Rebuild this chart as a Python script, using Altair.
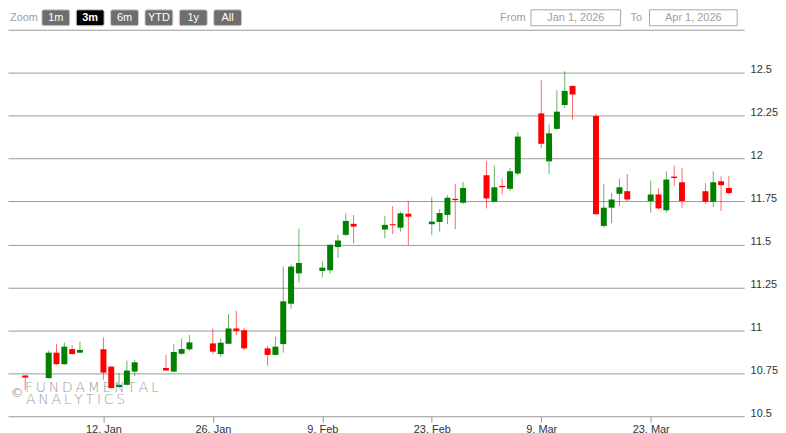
import altair as alt
import pandas as pd

# ---- data ----
DATES = [
    "2026-01-02", "2026-01-05", "2026-01-06", "2026-01-07", "2026-01-08", "2026-01-09",
    "2026-01-12", "2026-01-13", "2026-01-14", "2026-01-15", "2026-01-16",
    "2026-01-20", "2026-01-21", "2026-01-22", "2026-01-23",
    "2026-01-26", "2026-01-27", "2026-01-28", "2026-01-29", "2026-01-30",
    "2026-02-02", "2026-02-03", "2026-02-04", "2026-02-05", "2026-02-06",
    "2026-02-09", "2026-02-10", "2026-02-11", "2026-02-12", "2026-02-13",
    "2026-02-17", "2026-02-18", "2026-02-19", "2026-02-20",
    "2026-02-23", "2026-02-24", "2026-02-25", "2026-02-26", "2026-02-27",
    "2026-03-02", "2026-03-03", "2026-03-04", "2026-03-05", "2026-03-06",
    "2026-03-09", "2026-03-10", "2026-03-11", "2026-03-12", "2026-03-13",
    "2026-03-16", "2026-03-17", "2026-03-18", "2026-03-19", "2026-03-20",
    "2026-03-23", "2026-03-24", "2026-03-25", "2026-03-26", "2026-03-27",
    "2026-03-30", "2026-03-31", "2026-04-01", "2026-04-02",
]
OPEN = [
    10.737, 10.722, 10.870, 10.803, 10.891, 10.870,
    10.890, 10.789, 10.670, 10.683, 10.760,
    10.781, 10.760, 10.864, 10.890,
    10.924, 10.862, 10.922, 11.011, 11.001,
    10.895, 10.857, 10.920, 11.155, 11.332,
    11.346, 11.350, 11.485, 11.556, 11.620,
    11.587, 11.618, 11.598, 11.679,
    11.618, 11.631, 11.672, 11.766, 11.743,
    11.903, 11.749, 11.841, 11.824, 11.913,
    12.263, 11.984, 12.173, 12.312, 12.423,
    12.248, 11.608, 11.714, 11.795, 11.810,
    11.753, 11.791, 11.699, 11.895, 11.862,
    11.810, 11.749, 11.868, 11.829,
]
HIGH = [
    10.740, 10.882, 10.920, 10.930, 10.914, 10.934,
    10.959, 10.792, 10.751, 10.824, 10.828,
    10.857, 10.920, 10.953, 10.972,
    11.011, 10.953, 11.094, 11.113, 11.014,
    10.910, 10.962, 11.371, 11.383, 11.592,
    11.402, 11.502, 11.556, 11.681, 11.672,
    11.666, 11.724, 11.691, 11.753,
    11.777, 11.705, 11.787, 11.853, 11.864,
    11.984, 11.959, 11.884, 11.945, 12.153,
    12.456, 12.199, 12.398, 12.508, 12.425,
    12.260, 11.853, 11.801, 11.884, 11.910,
    11.872, 11.826, 11.926, 11.959, 11.945,
    11.857, 11.926, 11.897, 11.897,
]
LOW = [
    10.654, 10.720, 10.800, 10.800, 10.860, 10.868,
    10.712, 10.662, 10.668, 10.680, 10.735,
    10.765, 10.757, 10.858, 10.878,
    10.862, 10.847, 10.920, 10.972, 10.886,
    10.795, 10.855, 10.870, 11.127, 11.277,
    11.309, 11.329, 11.421, 11.550, 11.506,
    11.535, 11.560, 11.575, 11.497,
    11.554, 11.575, 11.618, 11.589, 11.734,
    11.710, 11.745, 11.791, 11.810, 11.903,
    12.061, 11.910, 12.167, 12.296, 12.228,
    11.675, 11.598, 11.624, 11.724, 11.753,
    11.685, 11.705, 11.685, 11.839, 11.714,
    11.737, 11.718, 11.695, 11.791,
]
CLOSE = [
    10.725, 10.870, 10.803, 10.905, 10.862, 10.886,
    10.754, 10.664, 10.683, 10.766, 10.814,
    10.766, 10.874, 10.891, 10.930,
    10.876, 10.928, 11.011, 10.997, 10.895,
    10.857, 10.905, 11.169, 11.371, 11.392,
    11.365, 11.498, 11.523, 11.637, 11.604,
    11.614, 11.612, 11.681, 11.662,
    11.633, 11.683, 11.772, 11.758, 11.829,
    11.768, 11.833, 11.833, 11.926, 12.128,
    12.086, 12.147, 12.273, 12.394, 12.373,
    11.676, 11.714, 11.762, 11.833, 11.762,
    11.791, 11.710, 11.878, 11.887, 11.753,
    11.749, 11.862, 11.845, 11.799,
]

Y_TICKS = [10.5, 10.75, 11.0, 11.25, 11.5, 11.75, 12.0, 12.25, 12.5, 12.75]
X_TICKS = [(1, 12), (1, 26), (2, 9), (2, 23), (3, 9), (3, 23)]
ZOOM_BUTTONS = ["1m", "3m", "6m", "YTD", "1y", "All"]
SELECTED = "3m"
FROM_TEXT = "Jan 1, 2026"
TO_TEXT = "Apr 1, 2026"

df = pd.DataFrame({"date": DATES, "open": OPEN, "high": HIGH, "low": LOW, "close": CLOSE})

UP = "#008000"
DOWN = "#ff0000"
GRID = "#9a9a9a"
FONT = "Liberation Sans"
W, H = 739, 388

color_cond = alt.condition("datum.close >= datum.open", alt.value(UP), alt.value(DOWN))

x_scale = alt.Scale(
    type="utc",
    domain=[
        alt.DateTime(year=2025, month=12, date=31, hours=10, minutes=22, utc=True),
        alt.DateTime(year=2026, month=4, date=3, hours=7, minutes=30, utc=True),
    ],
)
x_axis = alt.Axis(
    values=[alt.DateTime(year=2026, month=m, date=d, utc=True) for m, d in X_TICKS],
    labelExpr="utcFormat(datum.value, '%-d. %b')", grid=False, domain=False,
    ticks=True, tickSize=6, tickColor=GRID, tickWidth=1,
    labelFont=FONT, labelFontSize=11, labelColor="#333333", labelPadding=1,
    labelBaseline="top", title=None,
)
y_scale = alt.Scale(domain=[10.5, 12.75], nice=False, zero=False)
y_axis = alt.Axis(
    orient="right", values=Y_TICKS, grid=True, gridColor=GRID, gridWidth=1,
    domain=False, ticks=False, tickSize=0, labelPadding=6,
    labelExpr="datum.value > 12.6 ? '' : format(datum.value, '~g')",
    labelBaseline="alphabetic", labelFont=FONT, labelFontSize=11,
    labelColor="#333333", title=None,
)

base = alt.Chart(df)
wicks = base.mark_rule(strokeWidth=1, opacity=0.6).encode(
    x=alt.X("date:T", scale=x_scale, axis=x_axis),
    y=alt.Y("low:Q", scale=y_scale, axis=y_axis),
    y2="high:Q",
    color=color_cond,
)
bodies = base.mark_bar(size=6).encode(
    x=alt.X("date:T"),
    y=alt.Y("open:Q"),
    y2="close:Q",
    color=color_cond,
)

layers = [wicks, bodies]

# watermark
def text_layer(txt, x, y, **kw):
    return alt.Chart(pd.DataFrame({"t": [txt]})).mark_text(**kw).encode(
        x=alt.value(x), y=alt.value(y), text="t:N"
    )

wm_style = dict(font="DejaVu Sans", fontSize=14, fontWeight=200, color="#8c8c8c",
                opacity=0.85, align="left", baseline="alphabetic")
layers.append(text_layer("\u2009".join("FUNDAMENTAL"), 17, 364, **wm_style))
layers.append(text_layer("\u2009".join("ANALYTICS"), 18, 376, **wm_style))
layers.append(text_layer("©", 9, 365, font="DejaVu Sans", fontSize=13, color="#8c8c8c",
                         opacity=0.85, align="center", baseline="middle"))

# range selector buttons
layers.append(text_layer("Zoom", 2, -12, font=FONT, fontSize=11, color="#a0a0a0",
                         align="left", baseline="middle"))
bx = 34
for lab in ZOOM_BUTTONS:
    sel = lab == SELECTED
    bw = 28
    rect = alt.Chart(pd.DataFrame({"t": [lab]})).mark_rect(
        cornerRadius=2, color="#000000" if sel else "#6e6e6e",
        stroke="#d0d0d0", strokeWidth=1,
    ).encode(x=alt.value(bx), x2=alt.value(bx + bw), y=alt.value(-20), y2=alt.value(-4))
    layers.append(rect)
    layers.append(text_layer(lab, bx + bw / 2, -12, font=FONT, fontSize=11,
                             fontWeight="bold" if sel else "normal", color="#ffffff",
                             align="center", baseline="middle"))
    bx += 34.5

# date inputs
layers.append(text_layer("From", 494, -12, font=FONT, fontSize=11, color="#a0a0a0",
                         align="left", baseline="middle"))
layers.append(text_layer("To", 625, -12, font=FONT, fontSize=11, color="#a0a0a0",
                         align="left", baseline="middle"))
for x0, x1, txt in [(525, 615, FROM_TEXT), (644, 732, TO_TEXT)]:
    box = alt.Chart(pd.DataFrame({"t": [txt]})).mark_rect(
        fill="#ffffff", stroke="#a8a8a8", strokeWidth=1,
    ).encode(x=alt.value(x0), x2=alt.value(x1), y=alt.value(-20), y2=alt.value(-4))
    layers.append(box)
    layers.append(text_layer(txt, (x0 + x1) / 2, -12, font=FONT, fontSize=11,
                             color="#a0a0a0", align="center", baseline="middle"))

chart = alt.layer(*layers).properties(
    width=W, height=H, padding=0, background="#ffffff",
).configure_view(strokeWidth=0)

chart.save("out.html", embed_options={"renderer": "svg", "actions": False})
